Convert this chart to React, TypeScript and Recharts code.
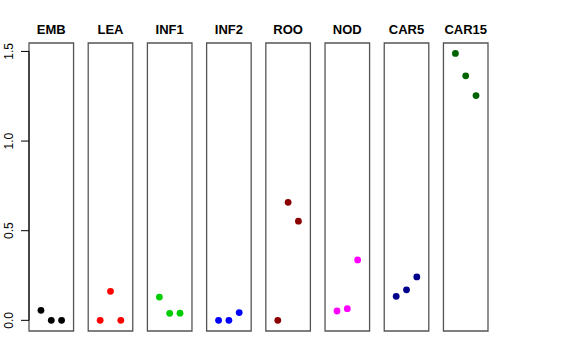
import { ReferenceArea, ReferenceLine, Scatter, ScatterChart, XAxis, YAxis } from 'recharts';

// tissues, one panel each, three replicate points per panel
const TISSUES = ['EMB', 'LEA', 'INF1', 'INF2', 'ROO', 'NOD', 'CAR5', 'CAR15'];
const COLORS = ['#000000', '#FF0000', '#00CD00', '#0000FF', '#8B0000', '#FF00FF', '#00008B', '#006400'];

const EMB = [0.056, 0, 0];
const LEA = [0, 0.162, 0];
const INF1 = [0.13, 0.039, 0.04];
const INF2 = [0, 0, 0.043];
const ROO = [0, 0.658, 0.553];
const NOD = [0.052, 0.065, 0.337];
const CAR5 = [0.134, 0.17, 0.242];
const CAR15 = [1.489, 1.364, 1.254];

const VALUES = [EMB, LEA, INF1, INF2, ROO, NOD, CAR5, CAR15];
const Y_TICKS = [0, 0.5, 1, 1.5];

const GAP = 5.74; // x units between panel starts
const PAD = 0.16;
const Y_MIN = -0.0595;
const Y_MAX = 1.547;

function YTick({ x, y, payload }: any) {
  return (
    <text
      x={x - 6}
      y={y}
      transform={`rotate(-90, ${x - 6}, ${y})`}
      textAnchor="middle"
      fontSize={12}
      fill="#000"
    >
      {Number(payload.value).toFixed(1)}
    </text>
  );
}

export default function App() {
  return (
    <div style={{ position: 'absolute', left: 0, top: 0, width: 576, height: 360, background: '#fff' }}>
      <ScatterChart
        width={576}
        height={360}
        margin={{ top: 43, right: 88, bottom: 29, left: 0 }}
        style={{ fontFamily: '"Liberation Sans", Arial, sans-serif' }}
      >
        <XAxis type="number" dataKey="x" hide domain={[-PAD, 7 * GAP + 3 + 1 + PAD]} allowDataOverflow />
        <YAxis
          type="number"
          dataKey="y"
          width={29}
          domain={[Y_MIN, Y_MAX]}
          ticks={Y_TICKS}
          allowDataOverflow
          axisLine={false}
          tickSize={8}
          tickLine={{ stroke: '#000' }}
          tick={<YTick />}
        />
        {TISSUES.map((name, i) => (
          <ReferenceArea
            key={name}
            x1={i * GAP - PAD}
            x2={i * GAP + 4 + PAD}
            y1={Y_MIN}
            y2={Y_MAX}
            fill="#fff"
            fillOpacity={0}
            stroke="#555"
            strokeWidth={1.3}
            ifOverflow="visible"
            label={{ value: name, position: 'top', offset: 9, fill: '#000', fontSize: 13, fontWeight: 'bold' }}
          />
        ))}
        <ReferenceLine
          segment={[{ x: -PAD, y: 0 }, { x: -PAD, y: 1.5 }]}
          stroke="#000"
          ifOverflow="visible"
        />
        {TISSUES.map((name, i) => (
          <Scatter
            key={name}
            name={name}
            data={VALUES[i].map((v, j) => ({ x: i * GAP + j + 1, y: v }))}
            fill={COLORS[i]}
            isAnimationActive={false}
            shape={(p: any) => <circle cx={p.cx} cy={p.cy} r={3.4} fill={COLORS[i]} />}
          />
        ))}
      </ScatterChart>
    </div>
  );
}
